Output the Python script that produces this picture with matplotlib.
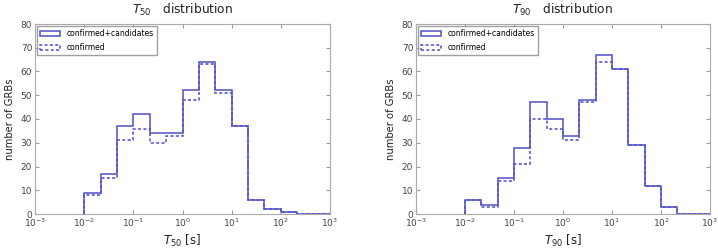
import numpy as np
import matplotlib
matplotlib.use("Agg")
import matplotlib.pyplot as plt

# log bin edges, 3 per decade from 1e-2 to 1e3
edges = np.logspace(-2, 3, 16)
centers = np.sqrt(edges[:-1] * edges[1:])

t50_all = [9, 17, 37, 42, 34, 34, 52, 64, 52, 37, 6, 2, 1, 0, 0]
t50_conf = [8, 15, 31, 36, 30, 33, 48, 63, 51, 37, 6, 2, 1, 0, 0]
t90_all = [6, 4, 15, 28, 47, 40, 33, 48, 67, 61, 29, 12, 3, 0, 0]
t90_conf = [6, 3, 14, 21, 40, 36, 31, 47, 64, 61, 29, 12, 3, 0, 0]

col = '#5050c8'

fig = plt.figure(figsize=(7.18, 2.49), dpi=100)
ax1 = fig.add_axes([35/718, 35/249, 295/718, 190/249])
ax2 = fig.add_axes([416/718, 35/249, 294/718, 190/249])

panels = [(ax1, t50_all, t50_conf, '50'), (ax2, t90_all, t90_conf, '90')]
for ax, a, c, sub in panels:
    ax.hist(centers, bins=edges, weights=a, histtype='step', color=col, lw=1.1,
            label='confirmed+candidates')
    ax.hist(centers, bins=edges, weights=c, histtype='step', color=col, lw=1.1,
            linestyle=(0, (2, 1.5)), label='confirmed')
    ax.set_xscale('log')
    ax.set_xlim(1e-3, 1e3)
    ax.set_ylim(0, 80)
    ax.set_yticks(range(0, 81, 10))
    ax.tick_params(direction='in', which='both', top=True, right=True,
                   labelsize=6.5, labelcolor='#444444', color='#999999',
                   length=3, pad=2)
    ax.tick_params(which='minor', length=0)
    for s in ax.spines.values():
        s.set_color('#aaaaaa')
    ax.set_ylabel('number of GRBs', fontsize=7.2, color='#222222', labelpad=4)
    ax.set_xlabel(r'$T_{%s}$ [s]' % sub, fontsize=8.5, color='#222222', labelpad=3)
    ax.set_title(r'$T_{%s}$   distribution' % sub, fontsize=8.8, color='#222222', pad=7)
    leg = ax.legend(loc='upper left', fontsize=5.5, fancybox=False,
                    borderaxespad=0.3, handlelength=2.6, labelspacing=0.6)
    leg.get_frame().set_edgecolor('#888888')

fig.savefig('out.png', dpi=100)
